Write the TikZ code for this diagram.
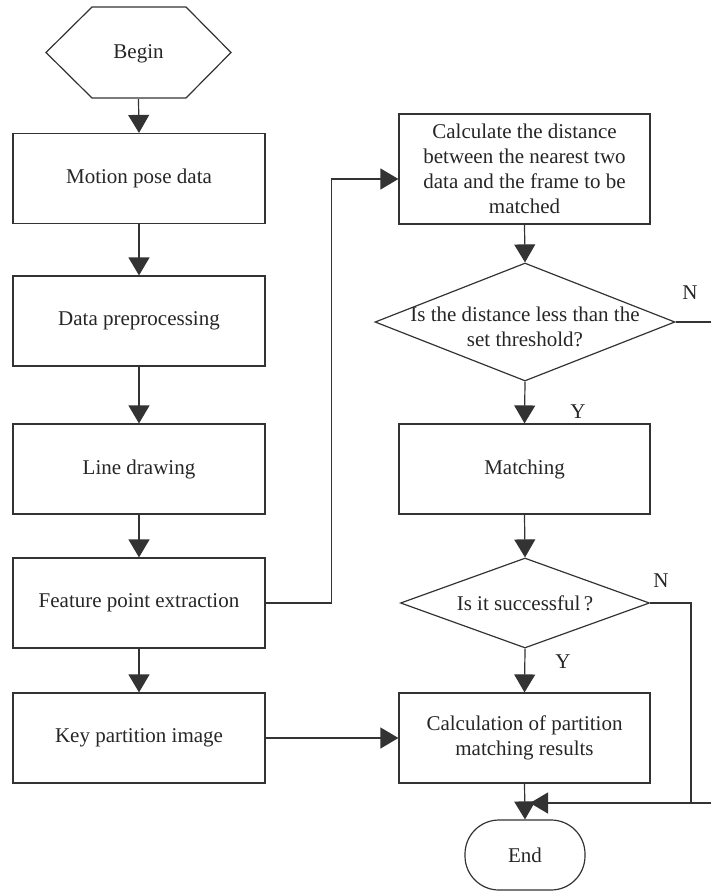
\documentclass[tikz,border=0pt]{standalone}
\usepackage{fontspec}
\setmainfont{Liberation Serif}
\usetikzlibrary{arrows.meta,shapes.geometric,calc}
\tikzset{
  every node/.style={font=\fontsize{21}{25}\selectfont, text=black!85},
  line/.style={draw=black!80, line width=1.2pt},
  arr/.style={line, -{Triangle[length=18pt,width=21pt]}},
  procbox/.style={line, rectangle, minimum width=252pt, minimum height=90pt, align=center, inner sep=2pt},
  decis/.style={line, diamond, inner sep=0pt},
  lbl/.style={inner sep=0pt}
}
\begin{document}
\begin{tikzpicture}[x=1pt,y=-1pt]
\useasboundingbox (0,0) rectangle (711,891);
% Begin hexagon
\node (begin) [minimum width=185pt, minimum height=91pt, inner sep=0pt] at (138.5,53.5) {Begin};
\draw[line] (46,52.5) -- (92,7) -- (186,7) -- (231,52.5) -- (186,98) -- (92,98) -- cycle;
% Left column
\node (b1) [procbox] at (139,178.5) {Motion pose data};
\node (b2) [procbox] at (139,321) {Data preprocessing};
\node (b3) [procbox] at (139,469) {Line drawing};
\node (b4) [procbox] at (139,603) {Feature point extraction};
\node (b5) [procbox] at (139,738) {Key partition image};
% Right column
\node (r1) [procbox, minimum width=251pt, minimum height=110pt] at (524.5,169) {Calculate the distance\\between the nearest two\\data and the frame to be\\matched};
\node (d1) [decis, minimum width=300pt, minimum height=118pt, label={[lbl,align=center,yshift=-5pt]center:Is the distance less than the\\set threshold?}] at (525,322) {};
\node (m) [procbox, minimum width=251pt] at (524.5,469) {Matching};
\node (d2) [decis, minimum width=249pt, minimum height=90pt, label={[lbl]center:Is it successful\,?}] at (525,603) {};
\node (r5) [procbox, minimum width=251pt] at (524.5,738) {Calculation of partition\\matching results};
\node (e) [line, rectangle, rounded corners=34pt, minimum width=120pt, minimum height=70pt] at (525,855) {End};
% labels
\node (n1) [lbl] at (690,293) {N};
\node (n2) [lbl] at (661,581) {N};
\node (y1) [lbl] at (578,412) {Y};
\node (y2) [lbl] at (563,662) {Y};
\coordinate (nout) at (711,322);
\coordinate (nin) at (711,803);
\coordinate (join) at (691,803);
% connectors
\draw[arr] (begin.south) -- (b1.north);
\draw[arr] (b1) -- (b2);
\draw[arr] (b2) -- (b3);
\draw[arr] (b3) -- (b4);
\draw[arr] (b4) -- (b5);
\draw[arr] (b4.east) -- ++(66,0) |- ([yshift=-10pt]r1.west);
\draw[arr] (r1.south) -- (d1.north);
\draw[arr] (d1.south) -- (m.north);
\draw[line] (d1.east) -- (nout);
\draw[arr] (m.south) -- (d2.north);
\draw[arr] (d2.south) -- (r5.north);
\draw[arr] (b5.east) -- (r5.west);
\draw[arr] (r5.south) -- (e.north);
\draw[line] (nin) -- (join);
\draw[arr] (d2.east) -| (join) -- ([xshift=5pt]e.north |- join);
\end{tikzpicture}
\end{document}
